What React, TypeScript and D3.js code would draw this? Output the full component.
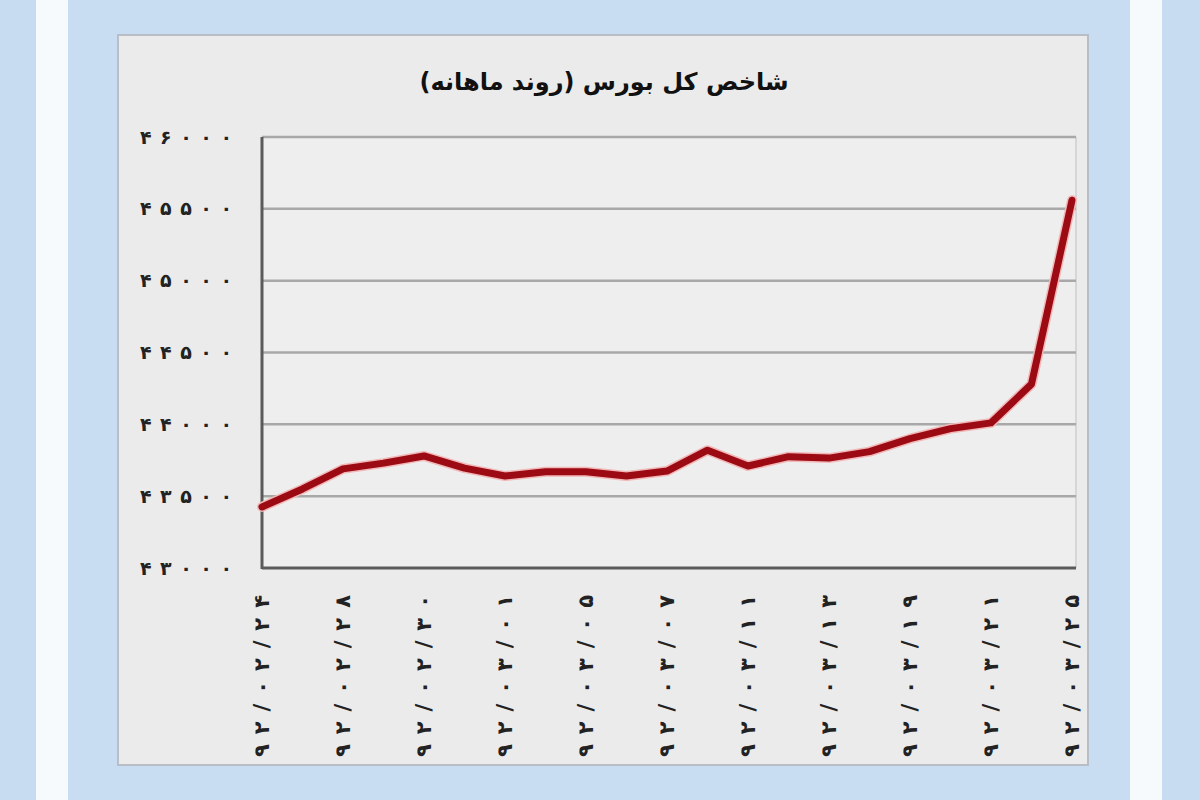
import React from "react";
import * as d3 from "d3";

const title = "شاخص کل بورس (روند ماهانه)";
const dateLabels = [
  "۹۲/۰۲/۲۴", "۹۲/۰۲/۲۸", "۹۲/۰۲/۳۰", "۹۲/۰۳/۰۱", "۹۲/۰۳/۰۵", "۹۲/۰۳/۰۷",
  "۹۲/۰۳/۱۱", "۹۲/۰۳/۱۳", "۹۲/۰۳/۱۹", "۹۲/۰۳/۲۱", "۹۲/۰۳/۲۵",
];
const indexValues = [
  43425, 43550, 43690, 43730, 43780, 43695, 43640, 43670, 43670, 43640, 43675,
  43820, 43710, 43775, 43765, 43810, 43900, 43970, 44010, 44280, 45560,
];
const yTicks = [43000, 43500, 44000, 44500, 45000, 45500, 46000];

const FA = "۰۱۲۳۴۵۶۷۸۹";
const toFa = (n: number) => String(n).replace(/\d/g, (d) => FA[+d]);

export default function App() {
  const W = 1200, H = 800;
  const plot = { left: 262, right: 1076, top: 137, bottom: 568 };
  const x = d3.scaleLinear().domain([0, indexValues.length - 1]).range([plot.left, 1072]);
  const y = d3.scaleLinear().domain([43000, 46000]).range([plot.bottom, plot.top]);
  const line = d3
    .line<number>()
    .x((_, i) => x(i))
    .y((d) => y(d));
  const font = "'DejaVu Sans', sans-serif";
  return (
    <svg width={W} height={H} style={{ position: "absolute", left: 0, top: 0 }}>
      <rect x={0} y={0} width={W} height={H} fill="#c8dcf1" />
      <rect x={36} y={0} width={32} height={H} fill="#f7fafd" />
      <rect x={1130} y={0} width={32} height={H} fill="#f7fafd" />
      <rect x={68} y={0} width={1062} height={H} fill="#c9ddf2" />
      <rect x={118} y={35} width={970} height={730} fill="#ebebeb" stroke="#b9bec6" strokeWidth={2} />
      <rect x={plot.left} y={plot.top} width={plot.right - plot.left} height={plot.bottom - plot.top} fill="#eeeeee" />
      <line x1={plot.right} x2={plot.right} y1={plot.top} y2={plot.bottom} stroke="#d6d6d6" strokeWidth={2} />
      {yTicks.slice(1).map((t) => (
        <line key={t} x1={plot.left} x2={plot.right} y1={y(t)} y2={y(t)} stroke="#a8a8a8" strokeWidth={2.5} />
      ))}
      <line x1={plot.left} x2={plot.left} y1={plot.top} y2={plot.bottom + 1} stroke="#5a5a5a" strokeWidth={3} />
      <line x1={plot.left} x2={plot.right} y1={plot.bottom} y2={plot.bottom} stroke="#5a5a5a" strokeWidth={3} />
      {yTicks.map((t) => (
        <text
          key={t}
          x={140}
          y={y(t)}
          dy="0.35em"
          fontFamily={font}
          fontWeight="bold"
          fontSize={19}
          textLength={92}
          lengthAdjust="spacing"
          fill="#222"
        >
          {toFa(t)}
        </text>
      ))}
      {dateLabels.map((d, i) => (
        <text
          key={d}
          transform={`translate(${x(i * 2)},757) rotate(-90)`}
          dy="0.35em"
          fontFamily={font}
          fontWeight="bold"
          fontSize={21}
          textLength={162}
          lengthAdjust="spacing"
          fill="#222"
          direction="ltr"
        >
          {d}
        </text>
      ))}
      <path d={line(indexValues) || ""} fill="none" stroke="#f2b7b7" strokeWidth={10} strokeLinejoin="round" strokeLinecap="round" />
      <path d={line(indexValues) || ""} fill="none" stroke="#9c0a14" strokeWidth={7} strokeLinejoin="round" strokeLinecap="round" />
      <text
        x={604}
        y={82}
        dy="0.35em"
        textAnchor="middle"
        direction="rtl"
        fontFamily={font}
        fontWeight="bold"
        fontSize={24}
        fill="#111"
      >
        {title}
      </text>
    </svg>
  );
}
